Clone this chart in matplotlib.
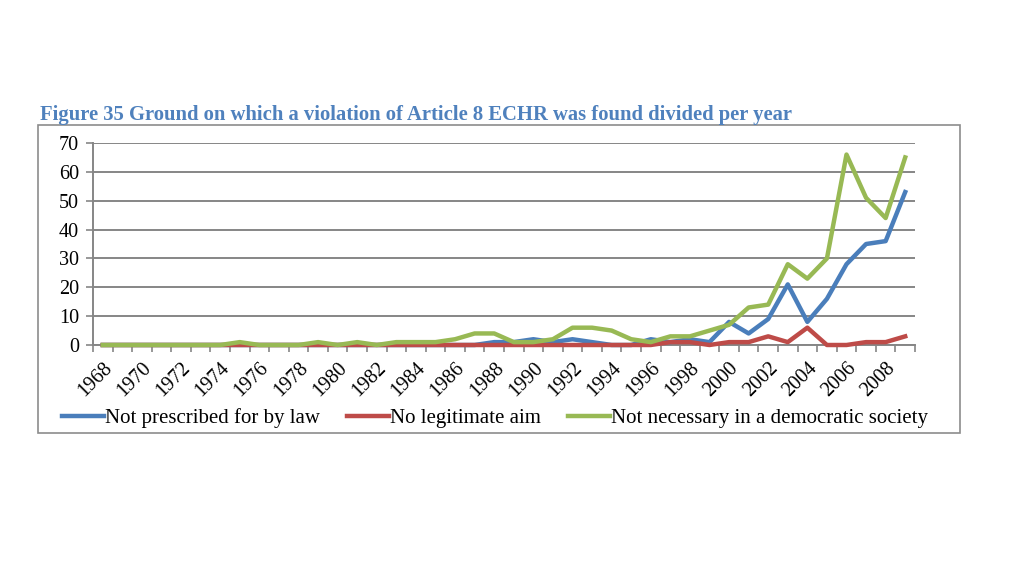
import numpy as np
import matplotlib.pyplot as plt
from matplotlib.patches import Rectangle

years = list(range(1968, 2010))

# values per year, 1968..2009
not_prescribed = [0, 0, 0, 0, 0, 0, 0, 0, 0, 0,
                  0, 0, 0, 0, 0, 0, 0, 0, 0, 0,
                  1, 1, 2, 1, 2, 1, 0, 0, 2, 1,
                  2, 1, 8, 4, 9, 21, 8, 16, 28, 35,
                  36, 53]
no_aim = [0, 0, 0, 0, 0, 0, 0, 0, 0, 0,
          0, 0, 0, 0, 0, 0, 0, 0, 0, 0,
          0, 0, 0, 0, 0, 0, 0, 0, 0, 1,
          1, 0, 1, 1, 3, 1, 6, 0, 0, 1,
          1, 3]
not_necessary = [0, 0, 0, 0, 0, 0, 0, 1, 0, 0,
                 0, 1, 0, 1, 0, 1, 1, 1, 2, 4,
                 4, 1, 1, 2, 6, 6, 5, 2, 1, 3,
                 3, 5, 7, 13, 14, 28, 23, 30, 66, 51,
                 44, 65]

labels = ['Not prescribed for by law', 'No legitimate aim',
          'Not necessary in a democratic society']
colors = ['#4A7EBB', '#BE4B48', '#98B954']

plt.rcParams['font.family'] = ['Liberation Serif', 'DejaVu Serif']

fig = plt.figure(figsize=(10.24, 5.76), dpi=100)

# outer frame around the chart
fig.patches.append(Rectangle((38/1024, 1-433/576), (960-38)/1024, (433-125)/576,
                             transform=fig.transFigure, fill=False,
                             edgecolor='#8c8c8c', linewidth=1.2))

fig.text(40/1024, 1-115/576,
         'Figure 35 Ground on which a violation of Article 8 ECHR was found divided per year',
         color='#4F81BD', fontsize=14.9, fontweight='bold', va='center', ha='left')

ax = fig.add_axes([93/1024, 1-345/576, (915-93)/1024, (345-143)/576])

x = np.arange(len(years))
for ser, lab, c in zip([not_prescribed, no_aim, not_necessary], labels, colors):
    ax.plot(x, ser, color=c, linewidth=3.2, label=lab, solid_joinstyle='round',
            zorder=5, clip_on=False)

ax.set_xlim(-0.5, len(years) - 0.5)
ax.set_ylim(0, 70)
ax.set_yticks(range(0, 71, 10))
ax.yaxis.grid(True, color='#868686', linewidth=1.4)
ax.set_axisbelow(True)

for s in ['top', 'right']:
    ax.spines[s].set_visible(False)
ax.spines['left'].set_color('#868686')
ax.spines['bottom'].set_color('#868686')
ax.spines['left'].set_linewidth(1.4)
ax.spines['bottom'].set_linewidth(1.4)

# minor ticks at category borders, labels on every other year
ax.set_xticks(np.arange(-0.5, len(years), 1.0), minor=True)
ax.set_xticks(x[::2])
ax.set_xticklabels([str(y) for y in years[::2]], rotation=45, ha='right',
                   va='top', rotation_mode='anchor', fontsize=14.5)
ax.tick_params(axis='x', which='major', length=0, pad=10)
ax.tick_params(axis='x', which='minor', length=5, color='#868686', width=1.2)
ax.tick_params(axis='y', length=5, color='#868686', width=1.2, labelsize=14.5, pad=5)

fig.legend(loc='center', bbox_to_anchor=(495/1024, 1-418/576), ncol=3,
           frameon=False, fontsize=15, handlelength=2.0, handletextpad=0.05,
           columnspacing=1.3)

plt.savefig('out.png', dpi=100)
